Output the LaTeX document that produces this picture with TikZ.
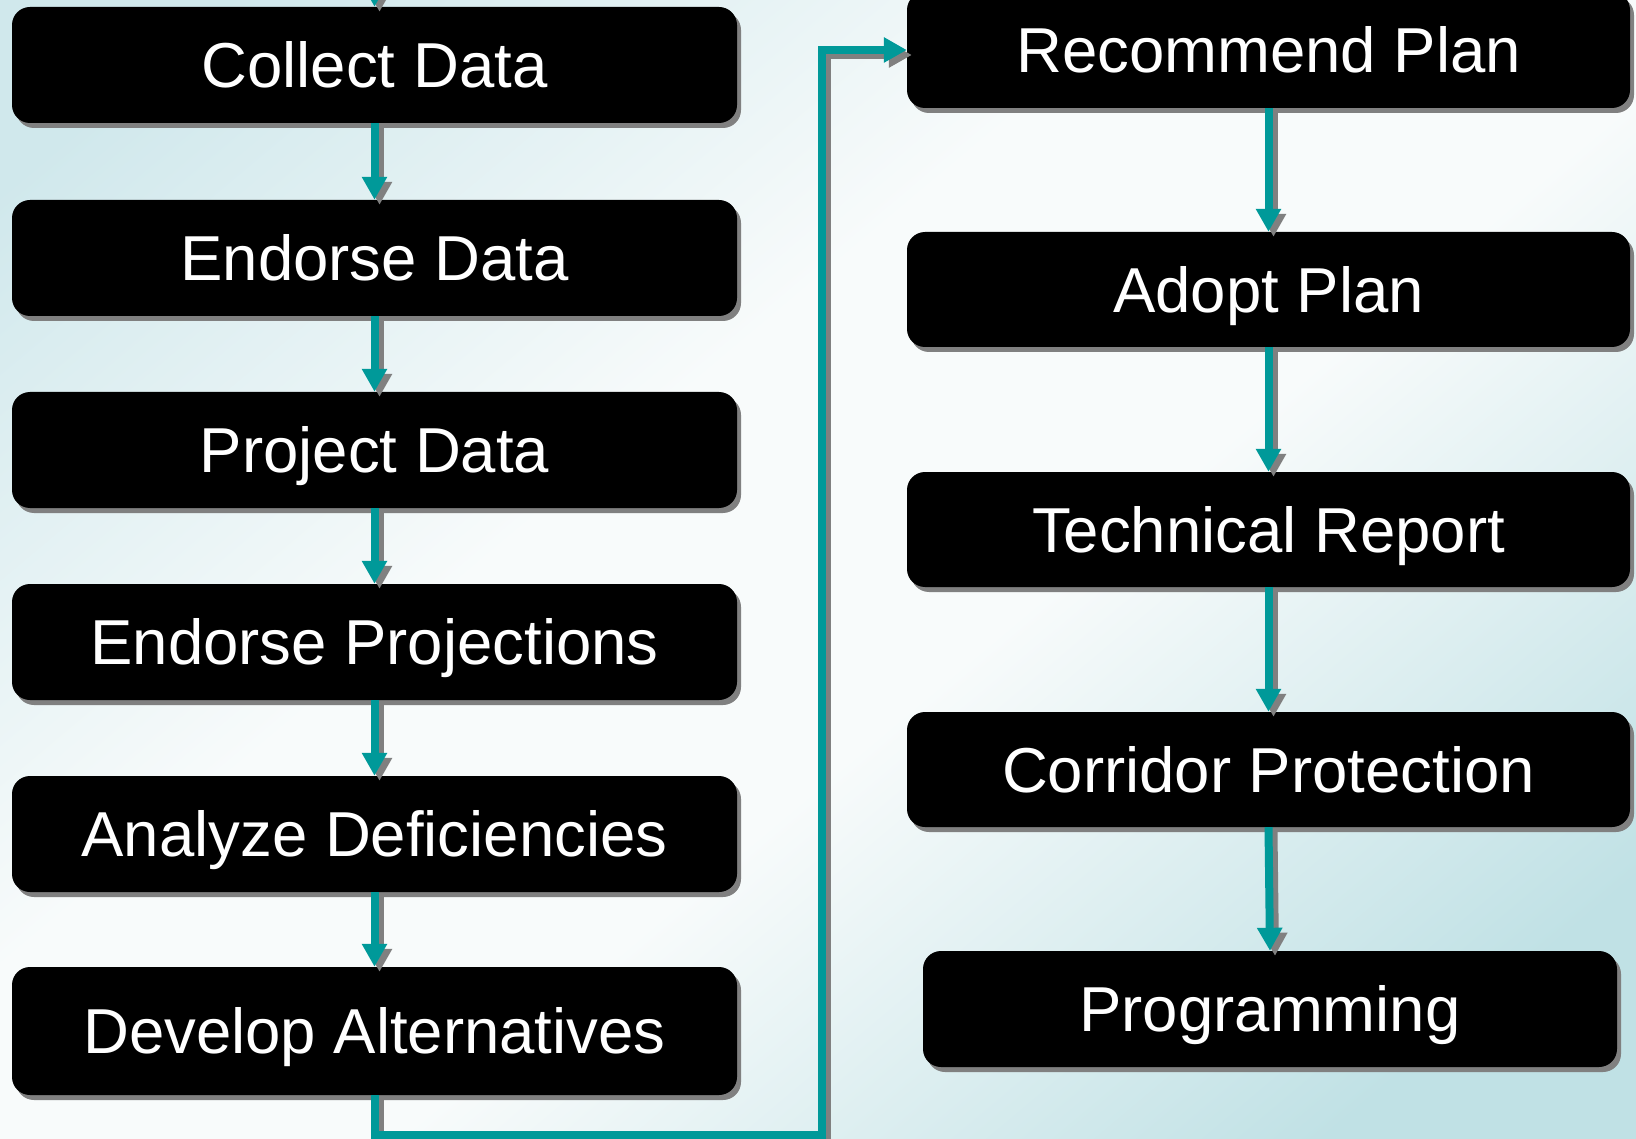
\documentclass[tikz,border=0pt]{standalone}
\usepackage{fontspec}
\setmainfont{Liberation Sans}
\usetikzlibrary{arrows.meta}
\definecolor{flowteal}{RGB}{0,153,153}
\definecolor{shadowgray}{RGB}{128,128,128}
\definecolor{bgTL}{RGB}{208,232,236}
\definecolor{bgM}{RGB}{248,251,251}
\definecolor{bgBR}{RGB}{192,225,229}
\pgfdeclareverticalshading{bgshade}{100bp}{color(0bp)=(bgBR); color(22bp)=(bgBR); color(44bp)=(bgM); color(58bp)=(bgM); color(80bp)=(bgTL); color(100bp)=(bgTL)}
\newcommand{\boxfont}{\fontsize{63.5}{70}\selectfont}
\tikzset{
  stepbox/.style={rectangle, rounded corners=18pt, fill=black, text=white,
    minimum width=725pt, minimum height=116pt, inner sep=0pt, font=\boxfont,
    text height=45.5pt, text depth=0pt,
    preaction={fill=shadowgray, transform canvas={shift={(4pt,-5pt)}}}},
  flow/.style={draw=flowteal, line width=8pt, -{Triangle[width=24pt,length=23pt]}, fill=none},
  flowshadow/.style={flow, draw=shadowgray, transform canvas={shift={(5pt,-5pt)}}}
}
\begin{document}
\begin{tikzpicture}[x=1pt,y=-1pt]
\useasboundingbox (0,0) rectangle (1636,1139);
\clip (0,0) rectangle (1636,1139);
\shade[shading=bgshade, shading angle=40] (0,0) rectangle (1636,1139);

% left column
\node[stepbox] (L1) at (374.5,65) {Collect Data};
\node[stepbox] (L2) at (374.5,258) {Endorse Data};
\node[stepbox] (L3) at (374.5,450) {Project Data};
\node[stepbox] (L4) at (374.5,642) {Endorse Projections};
\node[stepbox] (L5) at (374.5,834) {Analyze Deficiencies};
\node[stepbox, minimum height=128pt] (L6) at (374.5,1031) {Develop Alternatives};

% right column
\node[stepbox, minimum width=723pt] (R1) at (1268.5,50) {Recommend Plan};
\node[stepbox, minimum width=723pt, minimum height=115pt] (R2) at (1268.5,289.5) {Adopt Plan};
\node[stepbox, minimum width=723pt, minimum height=115pt] (R3) at (1268.5,529.5) {Technical Report};
\node[stepbox, minimum width=723pt, minimum height=115pt] (R4) at (1268.5,769.5) {Corridor Protection};
\node[stepbox, minimum width=694pt] (R5) at (1270,1009) {Programming};

% free ends and bends
\coordinate (topin) at (374.5,-40);
\coordinate (bend) at (822,1135);

% shadows of connectors
\draw[flowshadow] (topin) -- (L1.north);
\foreach \a/\b in {L1/L2,L2/L3,L3/L4,L4/L5,L5/L6,R1/R2,R2/R3,R3/R4,R4/R5}
  \draw[flowshadow] (\a.south) -- (\b.north);
\draw[flowshadow] (L6.south) |- (bend) |- (R1.west);

% connectors
\draw[flow] (topin) -- (L1.north);
\foreach \a/\b in {L1/L2,L2/L3,L3/L4,L4/L5,L5/L6,R1/R2,R2/R3,R3/R4,R4/R5}
  \draw[flow] (\a.south) -- (\b.north);
\draw[flow] (L6.south) |- (bend) |- (R1.west);
\end{tikzpicture}
\end{document}
